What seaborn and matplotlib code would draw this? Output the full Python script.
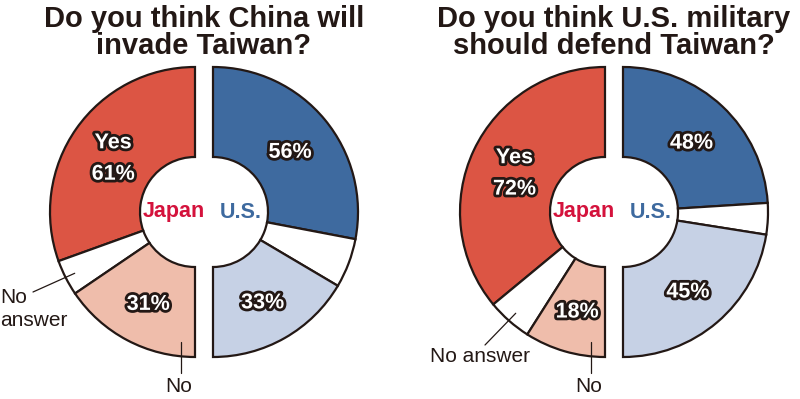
import numpy as np
import matplotlib
matplotlib.use("Agg")
import matplotlib.pyplot as plt
import matplotlib.patheffects as pe
import seaborn as sns

# answers in order: Yes, No answer, No (percent)
titles = [["Do you think China will", "invade Taiwan?"],
          ["Do you think U.S. military", "should defend Taiwan?"]]
japan_vals = [[61, 8, 31], [72, 10, 18]]
us_vals = [[56, 11, 33], [48, 7, 45]]
na_text = ["No\nanswer", "No answer"]

japan_colors = ["#dc5544", "#ffffff", "#efbdab"]
us_colors = ["#3e6a9f", "#ffffff", "#c6d1e5"]
EDGE = "#231815"
JP_TXT = "#d4123c"
US_TXT = "#3e6a9f"

sns.set_theme(style="white")
plt.rcParams["font.family"] = ["Liberation Sans", "DejaVu Sans"]

R_OUT, R_IN, HALF_GAP = 145, 55, 9
centers = [(204, 187), (614, 187)]

fig = plt.figure(figsize=(8, 3.99), dpi=100)
ax = fig.add_axes([0, 0, 1, 1])


def draw_half(vals, colors, center, counterclock):
    fracs = np.array(vals) / 200.0
    wedges, _ = ax.pie(fracs, colors=colors, startangle=90, counterclock=counterclock,
                       normalize=False, radius=R_OUT, center=center, frame=True,
                       wedgeprops=dict(width=R_OUT - R_IN, edgecolor=EDGE, linewidth=1.6))
    return wedges


def polar(center, r, ang):
    a = np.deg2rad(ang)
    return center[0] + r * np.cos(a), center[1] + r * np.sin(a)


stroke = [pe.withStroke(linewidth=4, foreground=EDGE)]

for k, (cx, cy) in enumerate(centers):
    jc = (cx - HALF_GAP, cy)
    uc = (cx + HALF_GAP, cy)
    jw = draw_half(japan_vals[k], japan_colors, jc, True)
    uw = draw_half(us_vals[k], us_colors, uc, False)

    # percent labels inside the wedges
    for wedges, vals, c, is_jp in [(jw, japan_vals[k], jc, True), (uw, us_vals[k], uc, False)]:
        for i in [0, 2]:
            w = wedges[i]
            mid = (w.theta1 + w.theta2) / 2
            x, y = polar(c, 100, mid)
            txt = f"{vals[i]}%"
            if is_jp and i == 0:
                txt = f"Yes\n{vals[i]}%"
            ax.text(x, y - 4, txt, ha="center", va="center", fontsize=15.5, fontweight="bold",
                    color="white", path_effects=stroke, linespacing=1.65, zorder=5)

    ax.text(cx - 30, cy, "Japan", ha="center", va="center", fontsize=15.5,
            fontweight="bold", color=JP_TXT)
    ax.text(cx + 37, cy, "U.S.", ha="center", va="center", fontsize=15.5,
            fontweight="bold", color=US_TXT)

    for line, base in zip(titles[k], [27, 54]):
        ax.text(cx, 399 - base, line, ha="center", va="baseline", fontsize=21,
                fontweight="bold", color=EDGE)

    # "No answer" leader
    w = jw[1]
    mid = (w.theta1 + w.theta2) / 2
    tip = polar(jc, 135, mid)
    if k == 0:
        ax.annotate("", xy=tip, xytext=(33, 399 - 292),
                    arrowprops=dict(arrowstyle="-", color=EDGE, lw=0.9, shrinkA=0, shrinkB=0))
        ax.text(0, 399 - 309, na_text[k], ha="left", va="center", fontsize=15,
                color=EDGE, linespacing=1.3)
    else:
        ax.annotate("", xy=tip, xytext=(485, 399 - 345),
                    arrowprops=dict(arrowstyle="-", color=EDGE, lw=0.9, shrinkA=0, shrinkB=0))
        ax.text(480, 399 - 357, na_text[k], ha="center", va="center", fontsize=15,
                color=EDGE)

    # "No" leader
    lx = jc[0] - 14
    ax.plot([lx, lx], [cy - 130, cy - 161], color=EDGE, lw=0.9)
    ax.text(lx - 2, 399 - 386, "No", ha="center", va="center", fontsize=15, color=EDGE)

ax.set_xlim(0, 800)
ax.set_ylim(0, 399)
ax.set_aspect("equal")
ax.axis("off")

fig.savefig("out.png", dpi=100, facecolor="white")
